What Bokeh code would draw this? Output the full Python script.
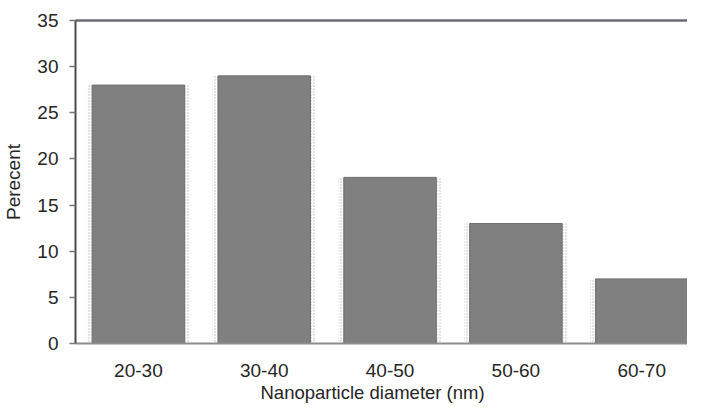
from bokeh.plotting import figure
from bokeh.models import Range1d, FixedTicker, LinearAxis, Title
from bokeh.embed import file_html
from bokeh.resources import INLINE

categories = ["20-30", "30-40", "40-50", "50-60", "60-70"]
percent = [28, 29, 18, 13, 7]
y_ticks = [0, 5, 10, 15, 20, 25, 30, 35]

xpos = list(range(1, len(categories) + 1))

p = figure(width=687, height=403, output_backend="svg", toolbar_location=None,
           x_range=Range1d(0.5, 5.364), y_range=Range1d(0, 35),
           min_border_left=68, min_border_right=0, min_border_top=20, min_border_bottom=0)
p.outline_line_color = None
p.grid.grid_line_color = None
p.background_fill_color = "white"

# speckled halo (scan artefact look)
p.vbar(x=xpos, top=percent, bottom=0, width=0.82, fill_color=None, line_color=None,
       hatch_pattern="dot", hatch_color="#b8b8b8", hatch_scale=3, hatch_weight=1)
p.vbar(x=xpos, top=percent, bottom=0, width=0.735, fill_color="#808080",
       line_color="#6e6e6e", line_width=1)

FONT = "Liberation Sans"

xa = p.xaxis[0]
xa.ticker = FixedTicker(ticks=xpos)
xa.major_label_overrides = {i: c for i, c in zip(xpos, categories)}
xa.major_tick_out = 0
xa.major_tick_in = 0
xa.minor_tick_out = 0
xa.minor_tick_in = 0
xa.axis_line_color = "#8c8c8c"
xa.axis_line_width = 2
xa.major_label_text_font = FONT
xa.major_label_text_font_size = "19px"
xa.major_label_text_color = "#262626"
xa.major_label_standoff = 20

ya = p.yaxis[0]
ya.ticker = FixedTicker(ticks=y_ticks)
ya.major_tick_out = 6
ya.major_tick_in = 0
ya.minor_tick_out = 0
ya.minor_tick_in = 0
ya.major_tick_line_color = "#777777"
ya.major_tick_line_width = 1.5
ya.axis_line_color = "#4a4a4a"
ya.axis_line_width = 2
ya.major_label_text_font = FONT
ya.major_label_text_font_size = "19px"
ya.major_label_text_color = "#262626"
ya.major_label_standoff = 11
ya.axis_label = "Perecent"
ya.axis_label_text_font = FONT
ya.axis_label_text_font_size = "19px"
ya.axis_label_text_font_style = "normal"
ya.axis_label_text_color = "#262626"
ya.axis_label_standoff = 10

top_axis = LinearAxis(ticker=FixedTicker(ticks=[]), axis_line_color="#6e6a72",
                      axis_line_width=2.5, major_tick_out=0, major_tick_in=0,
                      minor_tick_out=0, minor_tick_in=0,
                      major_label_text_font_size="0px")
p.add_layout(top_axis, "above")

t = Title(text="Nanoparticle diameter (nm)", align="left", offset=185,
          text_font=FONT, text_font_size="18.5px", text_font_style="normal",
          text_color="#262626", standoff=1)
p.add_layout(t, "below")

open("out.html", "w").write(file_html(p, INLINE))
